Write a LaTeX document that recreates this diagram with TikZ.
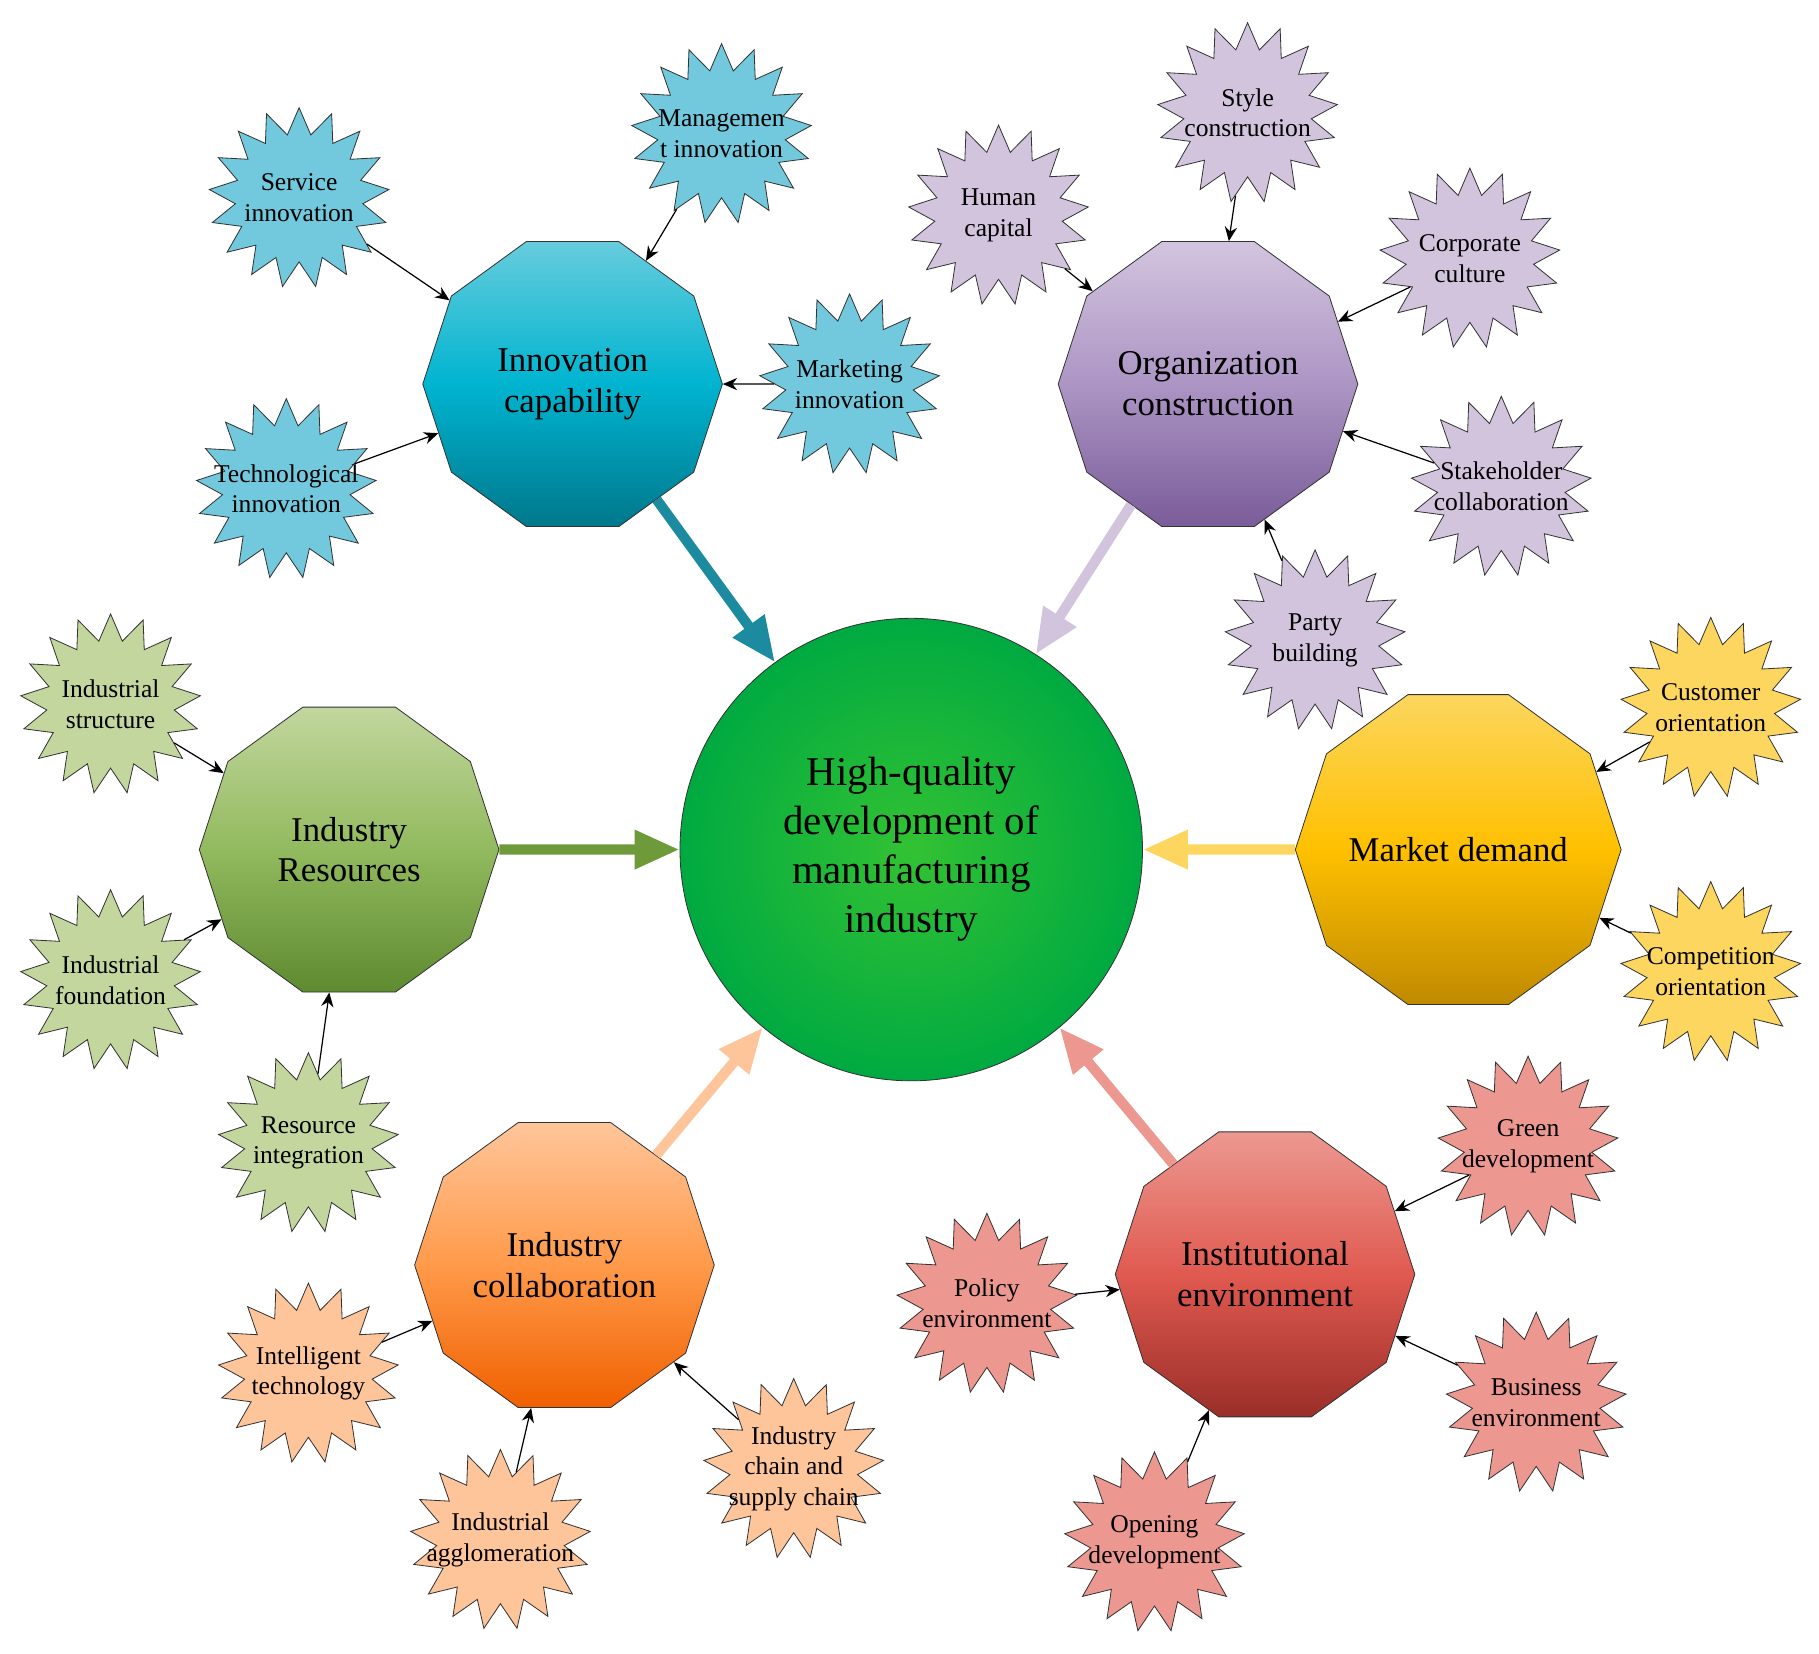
\documentclass[tikz,border=0pt]{standalone}
\usepackage{fontspec}
\setmainfont{Liberation Serif}
\usetikzlibrary{shapes.geometric,shapes.symbols,arrows.meta}
\definecolor{cInn}{HTML}{72C8DC}\definecolor{cInnT}{HTML}{66CCDD}\definecolor{cInnM}{HTML}{00B4D0}\definecolor{cInnB}{HTML}{00788C}\definecolor{cInnA}{HTML}{1C8BA0}
\definecolor{cOrg}{HTML}{D3C4DE}\definecolor{cOrgM}{HTML}{AC95C4}\definecolor{cOrgB}{HTML}{7A5C99}
\definecolor{cMkt}{HTML}{FCD65E}\definecolor{cMktM}{HTML}{FFC000}\definecolor{cMktB}{HTML}{C08A00}
\definecolor{cIns}{HTML}{EC9890}\definecolor{cInsM}{HTML}{E05A50}\definecolor{cInsB}{HTML}{9A2E28}
\definecolor{cCol}{HTML}{FFC59A}\definecolor{cColM}{HTML}{FF9A4A}\definecolor{cColB}{HTML}{F06000}
\definecolor{cRes}{HTML}{C2D69E}\definecolor{cResM}{HTML}{92BA5E}\definecolor{cResB}{HTML}{5E8A30}\definecolor{cResA}{HTML}{6E9A3A}
\newcommand\mystar[4]{\node[star=#3] (#1) at (#2) {};\node[align=center,font=\fontsize{12.5}{15}\selectfont,inner sep=0pt] at (#1.center) {#4};}
\begin{document}
\begin{tikzpicture}[x=0.02cm,y=-0.02cm,
 star/.style={starburst,starburst points=17,random starburst=0,starburst point height=0.45cm,draw=black!80,fill=#1,minimum width=3.1cm,minimum height=3.1cm,inner sep=0pt},
 poly/.style n args={3}{regular polygon,regular polygon sides=10,minimum size=5.15cm,draw=black!80,top color=#1,bottom color=#3,middle color=#2,align=center,font=\fontsize{17}{20}\selectfont,inner sep=0pt},
 sa/.style={-{Stealth[length=7pt,width=6pt]},black,semithick},
 ba/.style={-{Triangle[length=22pt,width=18pt]},line width=5pt,draw=#1}]
\useasboundingbox (0,0) rectangle (1563,1421);
\node[circle,draw=black!80,minimum size=7.95cm,inner color=green!70!black!80,outer color={rgb,255:red,0;green,170;blue,65},align=center,font=\fontsize{20}{24}\selectfont] (C) at (783,730) {High-quality\\development of\\manufacturing\\industry};
\node[poly={cInnT}{cInnM}{cInnB}] (I) at (492,330) {Innovation\\capability};
\node[poly={cOrg}{cOrgM}{cOrgB}] (O) at (1038,330) {Organization\\construction};
\node[poly={cRes}{cResM}{cResB}] (R) at (300,730) {Industry\\Resources};
\node[poly={cMkt}{cMktM}{cMktB}] (M) at (1253,730) {Market demand};
\node[poly={cCol}{cColM}{cColB}] (L) at (485,1087) {Industry\\collaboration};
\node[poly={cIns}{cInsM}{cInsB}] (E) at (1087,1095) {Institutional\\environment};
\draw[ba=cInnA] (I) -- (C);
\draw[ba=cOrg] (O) -- (C);
\draw[ba=cResA] (R) -- (C);
\draw[ba=cMkt] (M) -- (C);
\draw[ba=cCol] (L) -- (C);
\draw[ba=cIns] (E) -- (C);
\mystar{i1}{257,170}{cInn}{Service\\innovation}
\mystar{i2}{620,115}{cInn}{Managemen\\t innovation}
\mystar{i3}{730,330}{cInn}{Marketing\\innovation}
\mystar{i4}{246,420}{cInn}{Technological\\innovation}
\foreach \s in {i1,i2,i3,i4} \draw[sa] (\s) -- (I);
\mystar{o1}{858,185}{cOrg}{Human\\capital}
\mystar{o2}{1072,97}{cOrg}{Style\\construction}
\mystar{o3}{1263,222}{cOrg}{Corporate\\culture}
\mystar{o4}{1290,418}{cOrg}{Stakeholder\\collaboration}
\mystar{o5}{1130,550}{cOrg}{Party\\building}
\foreach \s in {o1,o2,o3,o4,o5} \draw[sa] (\s) -- (O);
\mystar{m1}{1470,608}{cMkt}{Customer\\orientation}
\mystar{m2}{1470,835}{cMkt}{Competition\\orientation}
\foreach \s in {m1,m2} \draw[sa] (\s) -- (M);
\mystar{e1}{1313,985}{cIns}{Green\\development}
\mystar{e2}{848,1120}{cIns}{Policy\\environment}
\mystar{e3}{1320,1205}{cIns}{Business\\environment}
\mystar{e4}{992,1325}{cIns}{Opening\\development}
\foreach \s in {e1,e2,e3,e4} \draw[sa] (\s) -- (E);
\mystar{l1}{265,1180}{cCol}{Intelligent\\technology}
\mystar{l2}{430,1323}{cCol}{Industrial\\agglomeration}
\mystar{l3}{682,1262}{cCol}{Industry\\chain and\\supply chain}
\foreach \s in {l1,l2,l3} \draw[sa] (\s) -- (L);
\mystar{r1}{95,605}{cRes}{Industrial\\structure}
\mystar{r2}{95,842}{cRes}{Industrial\\foundation}
\mystar{r3}{265,982}{cRes}{Resource\\integration}
\foreach \s in {r1,r2,r3} \draw[sa] (\s) -- (R);
\end{tikzpicture}
\end{document}
